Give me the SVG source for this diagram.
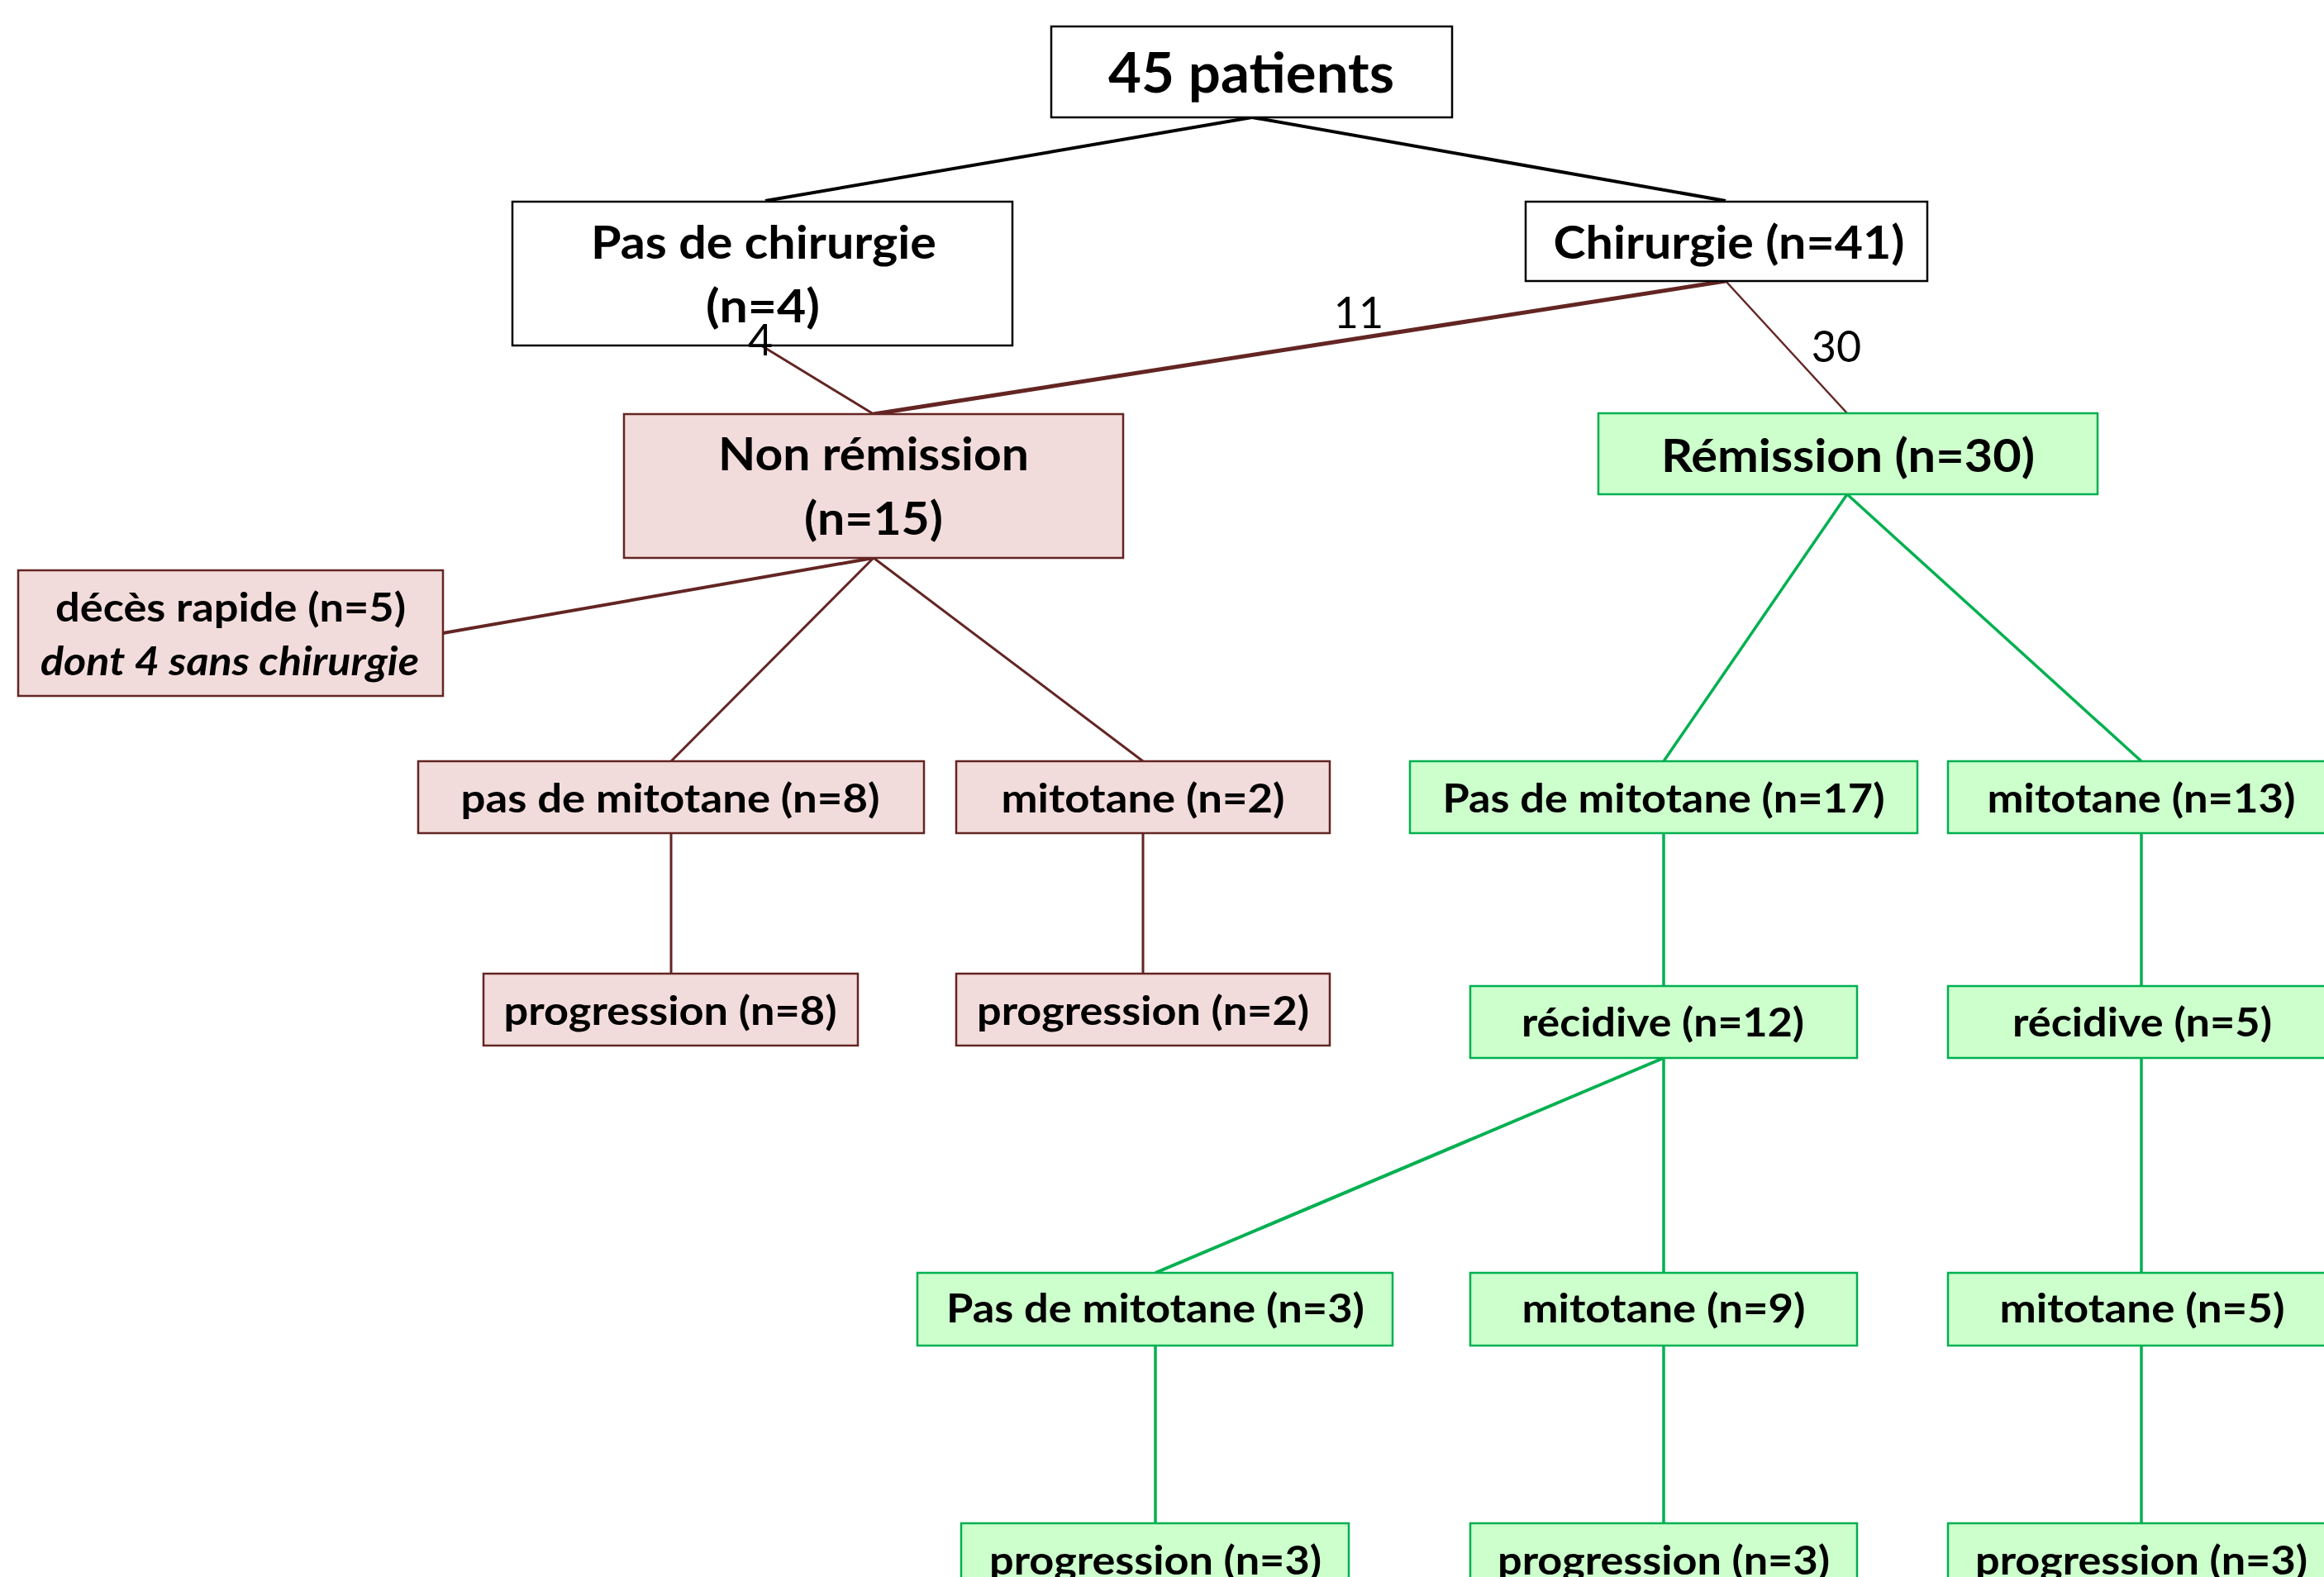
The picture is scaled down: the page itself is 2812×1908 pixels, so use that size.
<svg xmlns="http://www.w3.org/2000/svg" width="2812" height="1908" viewBox="0 0 2812 1908">
<style>
text{font-family:Lato,"Liberation Sans",sans-serif;font-weight:bold;fill:#000;text-anchor:middle}
.t1{font-size:66px}
.t2{font-size:56px}
.t3{font-size:48px}
.lbl{font-size:52px;font-weight:normal}
.it{font-style:italic}
.w{fill:#fff;stroke:#000;stroke-width:2.5}
.p{fill:#F2DCDB;stroke:#632523;stroke-width:2.5}
.g{fill:#CCFFCC;stroke:#00B050;stroke-width:2.5}
.lk{stroke:#000;stroke-width:4;fill:none}
.lm{stroke:#632523;stroke-width:3;fill:none}
.lg{stroke:#00B050;stroke-width:3.5;fill:none}
</style>
<rect width="2812" height="1908" fill="#fff"/>
<g id="connectors">
<line class="lk" x1="1515" y1="142" x2="926" y2="243"/>
<line class="lk" x1="1515" y1="142" x2="2088" y2="243"/>
<line class="lm" x1="921" y1="418" x2="1057" y2="501"/>
<line class="lm" x1="2088" y1="340" x2="1057" y2="501" style="stroke-width:5"/>
<line class="lm" x1="2088" y1="340" x2="2235" y2="500" style="stroke-width:2.5"/>
<line class="lm" x1="1057" y1="675" x2="536" y2="766" style="stroke-width:4"/>
<line class="lm" x1="1057" y1="675" x2="812" y2="921"/>
<line class="lm" x1="1057" y1="675" x2="1383" y2="921"/>
<line class="lm" x1="812" y1="1008" x2="812" y2="1178"/>
<line class="lm" x1="1383" y1="1008" x2="1383" y2="1178"/>
<line class="lg" x1="2235" y1="598" x2="2013" y2="921"/>
<line class="lg" x1="2235" y1="598" x2="2591" y2="921"/>
<line class="lg" x1="2013" y1="1008" x2="2013" y2="1193"/>
<line class="lg" x1="2591" y1="1008" x2="2591" y2="1193"/>
<line class="lg" x1="2013" y1="1280" x2="1398" y2="1540" style="stroke-width:4"/>
<line class="lg" x1="2013" y1="1280" x2="2013" y2="1540"/>
<line class="lg" x1="2591" y1="1280" x2="2591" y2="1540"/>
<line class="lg" x1="1398" y1="1628" x2="1398" y2="1843"/>
<line class="lg" x1="2013" y1="1628" x2="2013" y2="1843"/>
<line class="lg" x1="2591" y1="1628" x2="2591" y2="1843"/>
</g>
<g id="n-patients"><rect class="w" x="1272" y="32" width="485" height="110"/><text class="t1" x="1514" y="112" textLength="346" lengthAdjust="spacingAndGlyphs">45 patients</text></g>
<g id="n-pas-chir"><rect class="w" x="620" y="244" width="605" height="174"/><text class="t2" x="924" y="313" textLength="418" lengthAdjust="spacingAndGlyphs">Pas de chirurgie</text><text class="t2" x="923" y="390" textLength="138" lengthAdjust="spacingAndGlyphs">(n=4)</text></g>
<g id="n-chir"><rect class="w" x="1846" y="244" width="486" height="96"/><text class="t2" x="2092" y="313" textLength="425" lengthAdjust="spacingAndGlyphs">Chirurgie (n=41)</text></g>
<g id="n-nonrem"><rect class="p" x="755" y="501" width="604" height="174"/><text class="t2" x="1057" y="569" textLength="376" lengthAdjust="spacingAndGlyphs">Non rémission</text><text class="t2" x="1057" y="647" textLength="168" lengthAdjust="spacingAndGlyphs">(n=15)</text></g>
<g id="n-rem"><rect class="g" x="1934" y="500" width="604" height="98"/><text class="t2" x="2236" y="571" textLength="452" lengthAdjust="spacingAndGlyphs">Rémission (n=30)</text></g>
<g id="n-deces"><rect class="p" x="22" y="690" width="514" height="152"/><text class="t3" x="279" y="752" textLength="424" lengthAdjust="spacingAndGlyphs">décès rapide (n=5)</text><text class="t3 it" x="278" y="817" textLength="458" lengthAdjust="spacingAndGlyphs">dont 4 sans chirurgie</text></g>
<g id="n-pasmit8"><rect class="p" x="506" y="921" width="612" height="87"/><text class="t3" x="811" y="983" textLength="507" lengthAdjust="spacingAndGlyphs">pas de mitotane (n=8)</text></g>
<g id="n-mit2"><rect class="p" x="1157" y="921" width="452" height="87"/><text class="t3" x="1383" y="983" textLength="343" lengthAdjust="spacingAndGlyphs">mitotane (n=2)</text></g>
<g id="n-prog8"><rect class="p" x="585" y="1178" width="453" height="87"/><text class="t3" x="811" y="1240" textLength="403" lengthAdjust="spacingAndGlyphs">progression (n=8)</text></g>
<g id="n-prog2"><rect class="p" x="1157" y="1178" width="452" height="87"/><text class="t3" x="1383" y="1240" textLength="402" lengthAdjust="spacingAndGlyphs">progression (n=2)</text></g>
<g id="n-pasmit17"><rect class="g" x="1706" y="921" width="614" height="87"/><text class="t3" x="2013" y="983" textLength="535" lengthAdjust="spacingAndGlyphs">Pas de mitotane (n=17)</text></g>
<g id="n-mit13"><rect class="g" x="2357" y="921" width="470" height="87"/><text class="t3" x="2591" y="983" textLength="373" lengthAdjust="spacingAndGlyphs">mitotane (n=13)</text></g>
<g id="n-rec12"><rect class="g" x="1779" y="1193" width="468" height="87"/><text class="t3" x="2012" y="1254" textLength="342" lengthAdjust="spacingAndGlyphs">récidive (n=12)</text></g>
<g id="n-rec5"><rect class="g" x="2357" y="1193" width="470" height="87"/><text class="t3" x="2592" y="1254" textLength="314" lengthAdjust="spacingAndGlyphs">récidive (n=5)</text></g>
<g id="n-pasmit3"><rect class="g" x="1110" y="1540" width="575" height="88"/><text class="t3" x="1398" y="1600" textLength="506" lengthAdjust="spacingAndGlyphs">Pas de mitotane (n=3)</text></g>
<g id="n-mit9"><rect class="g" x="1779" y="1540" width="468" height="88"/><text class="t3" x="2013" y="1600" textLength="343" lengthAdjust="spacingAndGlyphs">mitotane (n=9)</text></g>
<g id="n-mit5"><rect class="g" x="2357" y="1540" width="470" height="88"/><text class="t3" x="2592" y="1600" textLength="345" lengthAdjust="spacingAndGlyphs">mitotane (n=5)</text></g>
<g id="n-prog3a"><rect class="g" x="1163" y="1843" width="469" height="88"/><text class="t3" x="1398" y="1905" textLength="402" lengthAdjust="spacingAndGlyphs">progression (n=3)</text></g>
<g id="n-prog3b"><rect class="g" x="1779" y="1843" width="468" height="88"/><text class="t3" x="2013" y="1905" textLength="402" lengthAdjust="spacingAndGlyphs">progression (n=3)</text></g>
<g id="n-prog3c"><rect class="g" x="2357" y="1843" width="470" height="88"/><text class="t3" x="2591" y="1905" textLength="402" lengthAdjust="spacingAndGlyphs">progression (n=3)</text></g>
<g id="edge-labels">
<text class="lbl" x="920" y="430">4</text>
<text class="lbl" x="1644" y="397">11</text>
<text class="lbl" x="2222" y="438">30</text>
</g>
</svg>
